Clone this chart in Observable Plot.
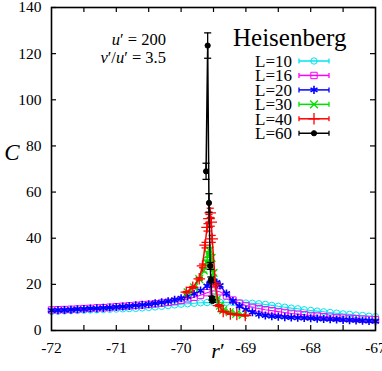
<!DOCTYPE html>
<html><head><meta charset="utf-8">
<script src="https://cdn.jsdelivr.net/npm/d3@7"></script>
<script src="https://cdn.jsdelivr.net/npm/@observablehq/plot@0.6"></script>
<style>body{margin:0;background:#fff} svg{display:block} svg text{font-family:"Liberation Serif", serif;}</style>
</head><body><div id="chart"></div>
<script>
// ---- data ----
const xGrid = [-72.0,-71.9,-71.8,-71.7,-71.6,-71.5,-71.4,-71.3,-71.2,-71.1,-71.0,-70.9,-70.8,-70.7,-70.6,-70.5,-70.4,-70.3,-70.2,-70.1,-70.0,-69.9,-69.8,-69.7,-69.6,-69.5,-69.4,-69.3,-69.2,-69.1,-69.0,-68.9,-68.8,-68.7,-68.6,-68.5,-68.4,-68.3,-68.2,-68.1,-68.0,-67.9,-67.8,-67.7,-67.6,-67.5,-67.4,-67.3,-67.2,-67.1,-67.0];
const cL10 = [8.3,8.4,8.5,8.6,8.7,8.8,8.9,9.0,9.1,9.2,9.3,9.4,9.5,9.6,9.8,10.0,10.2,10.5,10.8,11.1,11.4,11.6,11.8,12.0,12.1,12.2,12.2,12.2,12.1,12.0,11.9,11.8,11.6,11.3,10.9,10.5,10.1,9.7,9.4,9.0,8.7,8.4,8.1,7.8,7.5,7.2,7.0,6.7,6.5,6.2,6.0];
const cL16 = [8.9,9.0,9.1,9.2,9.3,9.5,9.6,9.8,9.9,10.1,10.3,10.5,10.7,10.9,11.1,11.3,11.6,11.9,12.2,12.6,13.1,13.7,14.4,15.3,16.4,17.2,16.8,15.0,13.2,11.8,10.8,10.0,9.5,9.0,8.6,8.2,7.8,7.4,7.1,6.8,6.5,6.3,6.0,5.8,5.6,5.4,5.2,5.1,4.9,4.8,4.7];
const xL20 = [-72.0,-71.9,-71.8,-71.7,-71.6,-71.5,-71.4,-71.3,-71.2,-71.1,-71.0,-70.9,-70.8,-70.7,-70.6,-70.5,-70.4,-70.3,-70.2,-70.1,-70.0,-69.9,-69.8,-69.7,-69.6,-69.55,-69.5,-69.45,-69.4,-69.3,-69.2,-69.1,-69.0,-68.9,-68.8,-68.7,-68.6,-68.5,-68.4,-68.3,-68.2,-68.1,-68.0,-67.9,-67.8,-67.7,-67.6,-67.5,-67.4,-67.3,-67.2,-67.1,-67.0];
const cL20 = [8.7,8.8,8.9,9.0,9.2,9.3,9.5,9.6,9.8,10.0,10.2,10.4,10.6,10.9,11.1,11.4,11.8,12.2,12.7,13.3,14.0,14.8,15.9,17.3,19.3,20.6,21.3,20.8,19.5,16.0,12.8,10.5,9.0,7.9,7.0,6.5,6.2,6.0,5.8,5.6,5.5,5.4,5.3,5.1,5.0,4.9,4.8,4.6,4.5,4.4,4.2,4.1,4.0];
const xL30 = [-69.9,-69.8,-69.72,-69.65,-69.61,-69.58,-69.56,-69.53,-69.5,-69.45,-69.4,-69.35,-69.25,-69.15,-69.05];
const cL30 = [16.5,18.7,22.3,26.0,29.5,33.0,34.6,31.5,25.0,13.5,10.8,8.8,7.9,7.2,6.7];
const eL30 = [0.3,0.4,0.5,0.7,1.0,1.3,1.5,1.3,1.0,0.5,0.3,0.2,0.2,0.2,0.2];
const xL40 = [-69.92,-69.82,-69.72,-69.67,-69.63,-69.60,-69.57,-69.55,-69.535,-69.52,-69.47,-69.42,-69.35,-69.24,-69.14,-69.01];
const cL40 = [16.6,18.7,22.4,28.0,37.0,44.7,48.5,51.0,47.0,39.7,20.0,10.8,8.2,7.2,6.9,6.5];
const eL40 = [0.3,0.4,0.5,0.8,1.2,1.6,1.8,2.0,1.8,1.5,0.8,0.4,0.2,0.2,0.2,0.2];
const xL60 = [-69.615,-69.59,-69.57,-69.55,-69.54,-69.525,-69.515];
const cL60 = [69.0,123.5,55.3,28.0,22.0,14.0,12.8];
const eL60 = [3.5,5.5,4.0,1.5,1.2,0.8,0.6];

const seriesNames = ["L=10","L=16","L=20","L=30","L=40","L=60"];
const seriesColors = ["#00e5ee","#ff00ff","#0000ff","#00e000","#ff0000","#000000"];
const xTickLabels = [-72,-71,-70,-69,-68,-67];
const xTickMarks = [-71.5,-71,-70.5,-70,-69.5,-69,-68.5,-68,-67.5];
const yTickLabels = [0,20,40,60,80,100,120,140];

// ---- layout ----
const W = 382, H = 371, mL = 51, mR = 7, mT = 7, mB = 41;
const plotW = W - mL - mR, plotH = H - mT - mB;
const serif = "'Liberation Serif', serif";

const capSym = {draw(ctx, size){ const w = Math.sqrt(size); ctx.moveTo(-w,0); ctx.lineTo(w,0); }};

const mk = (xs, cs, es, i) => xs.map((x, k) => ({x, c: cs[k], e: es ? es[k] : 0, s: seriesNames[i]}));
const data = [
  mk(xGrid, cL10, null, 0), mk(xGrid, cL16, null, 1), mk(xL20, cL20, null, 2),
  mk(xL30, cL30, eL30, 3), mk(xL40, cL40, eL40, 4), mk(xL60, cL60, eL60, 5)
];
const symbols = [
  {symbol:"circle", fill:"none", r:3.2, sw:1},
  {symbol:"square", fill:"none", r:3.6, sw:1},
  {symbol:"asterisk", fill:"none", r:3.8, sw:1.6},
  {symbol:"times", fill:"none", r:3.6, sw:1.3},
  {symbol:"plus", fill:"none", r:3.8, sw:1.3},
  {symbol:"circle", fill:"black", r:2.6, sw:1}
];

const seriesMarks = data.flatMap((d, i) => {
  const col = seriesColors[i], sy = symbols[i];
  const ms = [Plot.line(d, {x:"x", y:"c", stroke: col, strokeWidth: i < 3 ? 1.1 : 1.5})];
  if (i >= 3) {
    ms.push(Plot.ruleX(d, {x:"x", y1: r => r.c - r.e, y2: r => r.c + r.e, stroke: col, strokeWidth: 1.3}));
    ms.push(Plot.dot(d, {x:"x", y: r => r.c - r.e, symbol: capSym, r: 2, stroke: col, strokeWidth: 1.3}));
    ms.push(Plot.dot(d, {x:"x", y: r => r.c + r.e, symbol: capSym, r: 2, stroke: col, strokeWidth: 1.3}));
  }
  ms.push(Plot.dot(d, {x:"x", y:"c", symbol: sy.symbol, r: sy.r, stroke: col, fill: sy.fill === "none" ? "none" : col, strokeWidth: sy.sw}));
  return ms;
});

const chart = Plot.plot({
  width: W, height: H, marginLeft: mL, marginRight: mR, marginTop: mT, marginBottom: mB,
  x: {domain: [-72, -67]}, y: {domain: [0, 140]},
  style: {fontFamily: serif, fontSize: "15.5px", color: "black", background: "white", overflow: "visible"},
  marks: [
    ...seriesMarks,
    Plot.tickX(xTickMarks, {x: d => d, insetTop: plotH - 5, stroke: "black", strokeWidth: 1.2}),
    Plot.tickX(xTickMarks, {x: d => d, insetBottom: plotH - 5, stroke: "black", strokeWidth: 1.2}),
    Plot.tickY(yTickLabels, {y: d => d, insetRight: plotW - 5, stroke: "black", strokeWidth: 1.2}),
    Plot.tickY(yTickLabels, {y: d => d, insetLeft: plotW - 5, stroke: "black", strokeWidth: 1.2}),
    Plot.frame({stroke: "black", strokeWidth: 1.6}),
    Plot.axisX(xTickLabels, {anchor: "bottom", tickSize: 0, tickPadding: 11, tickFormat: d => String(d), label: null, fontSize: 15.5, fontFamily: serif}),
    Plot.axisY(yTickLabels, {anchor: "left", tickSize: 0, tickPadding: 10, tickFormat: d => String(d), label: null, fontSize: 15.5, fontFamily: serif})
  ]
});
document.getElementById("chart").appendChild(chart);

// ---- annotations & legend ----
const svg = d3.select(chart);
const ann = svg.append("text").attr("font-family", serif).attr("font-size", 16.5).attr("text-anchor", "end");
ann.append("tspan").attr("x", 166).attr("y", 45).html('<tspan font-style="italic">u</tspan>′ = 200');
ann.append("tspan").attr("x", 166).attr("y", 63).html('<tspan font-style="italic">v</tspan>′/<tspan font-style="italic">u</tspan>′ = 3.5');

svg.append("text").attr("x", 12).attr("y", 160).attr("text-anchor", "middle")
  .attr("font-family", serif).attr("font-style", "italic").attr("font-size", 23).text("C");
svg.append("text").attr("x", 218).attr("y", 358).attr("text-anchor", "middle")
  .attr("font-family", serif).attr("font-size", 22).html('<tspan font-style="italic">r</tspan>′');

svg.append("text").attr("x", 233).attr("y", 46).attr("text-anchor", "start")
  .attr("font-family", serif).attr("font-size", 25).text("Heisenberg");

const d3Sym = {circle: d3.symbolCircle, square: d3.symbolSquare, asterisk: d3.symbolAsterisk, times: d3.symbolTimes, plus: d3.symbolPlus};
seriesNames.forEach((name, i) => {
  const y = 61 + i * 14.45, col = seriesColors[i], sy = symbols[i];
  const g = svg.append("g");
  g.append("text").attr("x", 292).attr("y", y).attr("dy", "0.35em").attr("text-anchor", "end")
    .attr("font-family", serif).attr("font-size", 17).text(name);
  g.append("line").attr("x1", 299).attr("x2", 329).attr("y1", y).attr("y2", y).attr("stroke", col).attr("stroke-width", 1.5);
  [299, 329].forEach(x => g.append("line").attr("x1", x).attr("x2", x).attr("y1", y - 2.5).attr("y2", y + 2.5).attr("stroke", col).attr("stroke-width", 1.3));
  g.append("path").attr("transform", `translate(314,${y})`)
    .attr("d", d3.symbol(d3Sym[sy.symbol], Math.PI * sy.r * sy.r)())
    .attr("fill", sy.fill === "none" ? "none" : col).attr("stroke", col).attr("stroke-width", sy.sw);
});
</script>
</body></html>
